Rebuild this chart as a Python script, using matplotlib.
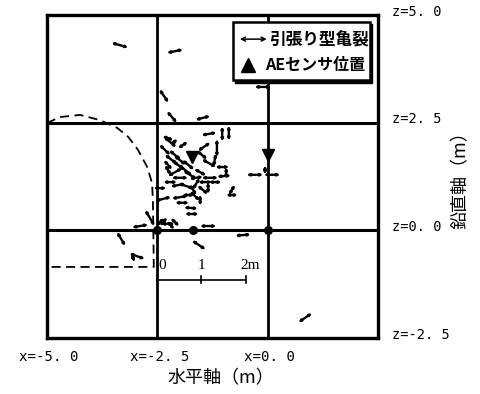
import numpy as np
import matplotlib
matplotlib.use("Agg")
import matplotlib.pyplot as plt
from matplotlib.patches import Rectangle

plt.rcParams['font.family'] = ['Noto Sans CJK JP', 'DejaVu Sans']

# ---- data (metres) ----
x_ticks = [-5.0, -2.5, 0.0]
x_tick_labels = ["x=-5. 0", "x=-2. 5", "x=0. 0"]
z_ticks = [5.0, 2.5, 0.0, -2.5]
z_tick_labels = ["z=5. 0", "z=2. 5", "z=0. 0", "z=-2. 5"]
grid_x = [-2.5, 0.0]
grid_z = [2.5, 0.0]

# tensile cracks: centre x, centre z, angle (deg), length (m)
crack_x = [-3.35, -2.10, -2.35, -2.17, -1.47, -0.11, -2.26, -1.33, -1.03, -0.88,
           -2.21, -2.12, -1.92, -1.44, -1.49, -1.15, -1.20, -1.33, -1.03, -0.94,
           -2.17, -2.03, -1.87, -2.10, -2.26, -1.76, -1.99, -1.62, -1.31, -0.99,
           -2.21, -1.85, -1.62, -1.47, -1.65, -1.35, -1.80,
           -0.81, -0.81, -0.29, 0.10, -0.06,
           -2.37, -1.99, -1.74, -1.72,
           -2.67, -2.89, -2.44, -2.26, -2.10,
           -1.35, -0.56, -1.56, -3.32, -2.96, -3.05, 0.85,
           -2.33, -2.10, -1.99, -1.80, -2.26, -2.03, -1.53, -1.42, -1.19,
           -1.69, -1.53, -1.94, -2.44, -2.36, -2.20]
crack_z = [4.30, 4.16, 3.12, 2.63, 2.61, 3.33, 2.14, 2.24, 2.24, 2.26,
           2.05, 2.05, 1.98, 1.94, 1.75, 1.91, 1.63, 1.56, 1.47, 1.33,
           1.63, 1.52, 1.40, 1.35, 1.40, 1.29, 1.22, 1.22, 1.22, 1.26,
           1.12, 1.03, 1.08, 0.94, 0.80, 0.98, 0.82,
           0.94, 0.82, 1.29, 1.29, 1.40,
           0.73, 0.77, 0.52, 0.38,
           0.29, 0.10, 0.19, 0.15, 0.19,
           0.10, -0.11, -0.34, -0.20, -0.60, -0.64, -2.03,
           1.87, 1.75, 1.63, 1.52, 1.52, 1.05, 1.35, 1.12, 1.12,
           0.94, 0.70, 0.64, 0.98, 0.20, 0.12]
crack_ang = [-16, 12, -56, -50, 15, 0, -20, 10, 90, 90,
             -40, 45, 35, 35, -40, 90, 80, -30, 0, 90,
             -40, -40, -40, 30, -60, -35, 0, 10, 0, 5,
             0, -20, 60, -40, -45, 90, 0,
             60, 0, 0, 0, 90,
             15, 10, -5, 0,
             -60, 10, 45, 0, -45,
             0, 5, -35, -60, -20, -70, 35,
             -45, -40, -40, -40, -50, 10, -30, 0, 0,
             -60, 90, 0, 0, 50, -50]
crack_len = [0.34, 0.32, 0.32, 0.30, 0.30, 0.32, 0.23, 0.30, 0.30, 0.30,
             0.32, 0.18, 0.23, 0.30, 0.27, 0.36, 0.27, 0.32, 0.27, 0.23,
             0.36, 0.36, 0.36, 0.32, 0.23, 0.32, 0.32, 0.27, 0.32, 0.27,
             0.27, 0.32, 0.27, 0.27, 0.27, 0.23, 0.23,
             0.23, 0.23, 0.32, 0.32, 0.18,
             0.32, 0.32, 0.27, 0.27,
             0.36, 0.32, 0.23, 0.27, 0.23,
             0.32, 0.30, 0.32, 0.32, 0.32, 0.18, 0.32,
             0.30, 0.30, 0.30, 0.30, 0.25, 0.30, 0.27, 0.27, 0.25,
             0.25, 0.22, 0.27, 0.25, 0.22, 0.22]

# AE sensors
sensor_x = [0.0, -1.71]
sensor_z = [1.75, 1.70]
dot_x = [-2.5, -1.70, 0.0]
dot_z = [0.0, 0.0, 0.0]

# dashed outline
outline_x = [-5.0, -4.71, -4.25, -3.80, -3.41, -3.16, -2.94, -2.73, -2.62, -2.60, -2.58, -5.0]
outline_z = [2.49, 2.63, 2.68, 2.56, 2.38, 2.17, 1.87, 1.47, 1.10, 0.70, -0.85, -0.85]

# scale bar
scale_x = [-2.5, -1.5, -0.5]
scale_labels = ["0", "1", "2m"]
scale_z = -1.15

# ---- figure ----
fig = plt.figure(figsize=(4.8, 3.94), dpi=100)
W, H = 480, 394
ax = fig.add_axes([47 / W, 1 - 338 / H, 331 / W, 323 / H])
ax.set_xlim(-5.0, 2.5)
ax.set_ylim(-2.5, 5.0)
ax.set_xticks([])
ax.set_yticks([])
for s in ax.spines.values():
    s.set_linewidth(2.4)

for gx in grid_x:
    ax.axvline(gx, color='k', lw=2.0, zorder=2)
for gz in grid_z:
    ax.axhline(gz, color='k', lw=2.2, zorder=2)

ax.plot(outline_x, outline_z, color='k', lw=1.3, ls=(0, (5, 3)), zorder=3)

for cx, cz, a, L in zip(crack_x, crack_z, crack_ang, crack_len):
    r = np.deg2rad(a)
    L = L * 1.15
    dx, dz = 0.5 * L * np.cos(r), 0.5 * L * np.sin(r)
    ax.annotate("", xy=(cx + dx, cz + dz), xytext=(cx - dx, cz - dz),
                arrowprops=dict(arrowstyle='<|-|>', color='k', lw=1.7,
                                mutation_scale=2.6, shrinkA=0, shrinkB=0),
                zorder=4)

ax.plot(sensor_x, sensor_z, 'v', color='k', ms=8, zorder=5)
ax.plot(dot_x, dot_z, 'o', color='k', ms=5.5, zorder=5)

# scale bar
ax.plot([scale_x[0], scale_x[-1]], [scale_z, scale_z], color='k', lw=1.2, zorder=3)
for sx in scale_x:
    ax.plot([sx, sx], [scale_z - 0.08, scale_z + 0.08], color='k', lw=1.2, zorder=3)
for sx, lab in zip(scale_x, scale_labels):
    off = 0.1 if lab in ("0", "2m") else 0.0
    ax.text(sx + off, scale_z + 0.33, lab, ha='center', va='center', fontsize=11,
            family=['Liberation Serif'])

# legend box
bx0, bz0, bw, bh = -0.79, 3.49, 3.10, 1.35
ax.add_patch(Rectangle((bx0 + 0.06, bz0 - 0.06), bw, bh, facecolor='k',
                       edgecolor='k', zorder=6, clip_on=False))
ax.add_patch(Rectangle((bx0, bz0), bw, bh, facecolor='white',
                       edgecolor='k', lw=1.8, zorder=7, clip_on=False))
ax.annotate("", xy=(-0.02, 4.44), xytext=(-0.63, 4.44),
            arrowprops=dict(arrowstyle='<->', color='k', lw=1.1,
                            mutation_scale=7, shrinkA=0, shrinkB=0), zorder=8)
ax.text(0.04, 4.44, "引張り型亀裂", ha='left', va='center', fontsize=12,
        fontweight='bold', zorder=8)
ax.plot([-0.45], [3.84], '^', color='k', ms=10, zorder=8)
ax.text(-0.06, 3.84, "AEセンサ位置", ha='left', va='center', fontsize=11.5,
        fontweight='bold', zorder=8)

# tick labels
for xv, lab in zip(x_ticks, x_tick_labels):
    ax.text(xv + 0.05, -2.95, lab, ha='center', va='center', fontsize=10.2,
            family=['DejaVu Sans Mono'], clip_on=False)
for zv, lab in zip(z_ticks, z_tick_labels):
    ax.text(2.82, zv + 0.08, lab, ha='left', va='center', fontsize=9.8,
            family=['DejaVu Sans Mono'], clip_on=False)

fig.text(221 / W, 1 - 378 / H, "水平軸（m）", ha='center', va='center', fontsize=13)
fig.text(461 / W, 1 - 176 / H, "鉛直軸（m）", ha='center', va='center', fontsize=13,
         rotation=90)

fig.savefig("out.png", dpi=100)
